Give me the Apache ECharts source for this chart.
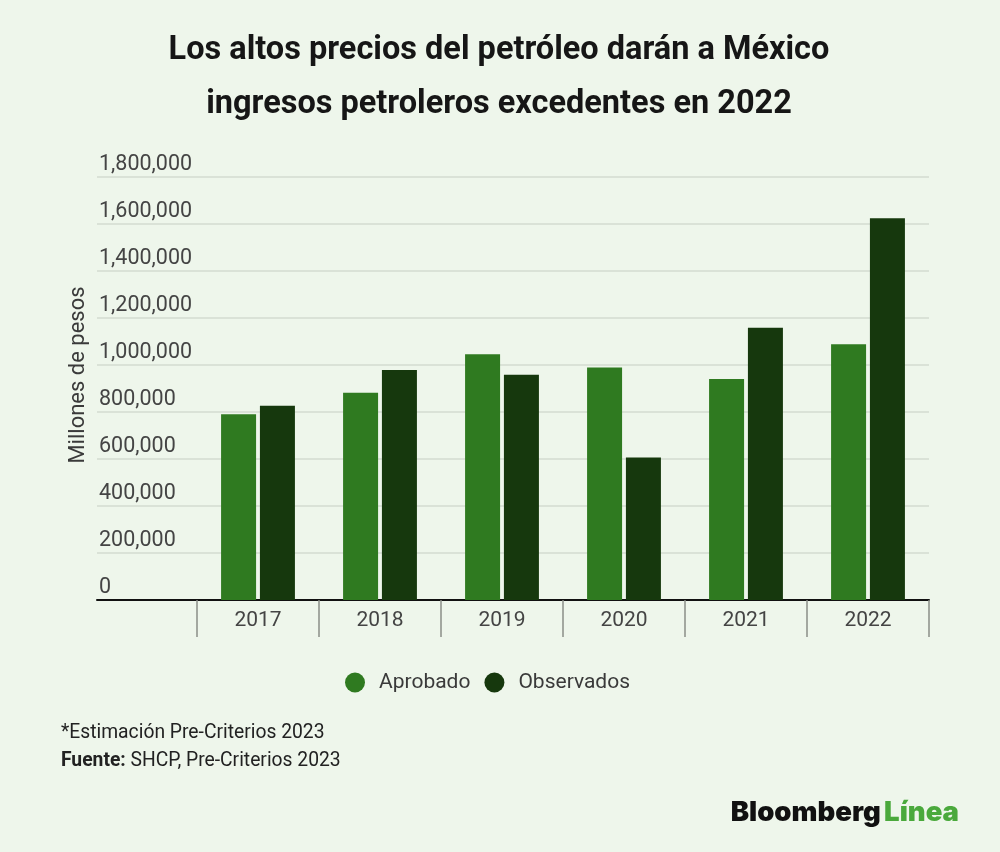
<!DOCTYPE html>
<html>
<head>
<meta charset="utf-8">
<script src="https://cdn.jsdelivr.net/npm/echarts@6/dist/echarts.min.js"></script>
<style>
html,body{margin:0;padding:0;background:#eef6eb;}
#chart{width:1000px;height:852px;}
</style>
</head>
<body>
<div id="chart"></div>
<script>
const years = ['2017', '2018', '2019', '2020', '2021', '2022'];
const aprobado = [790000, 882000, 1046000, 989000, 940000, 1088000];
const observados = [827000, 979000, 959000, 606000, 1159000, 1624000];
const seriesNames = ['Aprobado', 'Observados'];
const titleLines = ['Los altos precios del petróleo darán a México', 'ingresos petroleros excedentes en 2022'];
const yAxisName = 'Millones de pesos';
const note1 = '*Estimación Pre-Criterios 2023';
const sourceLabel = 'Fuente:';
const sourceText = ' SHCP, Pre-Criterios 2023';

const cA = '#2f7a20';
const cO = '#16380d';
const font = 'Roboto, "Noto Sans", sans-serif';

const chart = echarts.init(document.getElementById('chart'), null, {renderer: 'canvas'});
chart.setOption({
  backgroundColor: '#eef6eb',
  textStyle: {fontFamily: font},
  title: {
    text: titleLines.join('\n'),
    left: 494, top: 19, textAlign: 'center',
    textStyle: {fontSize: 32.5, fontWeight: 'bold', color: '#161616', lineHeight: 54, fontFamily: font}
  },
  legend: {
    data: seriesNames,
    left: 345, top: 672,
    icon: 'circle', itemWidth: 20, itemHeight: 20, itemGap: 14, padding: 0,
    textStyle: {fontSize: 21, color: '#3a3a3a', padding: [0, 0, 0, 9], fontFamily: font}
  },
  grid: [
    {left: 97, right: 71, top: 177, bottom: 252},
    {left: 197, right: 71, top: 177, bottom: 252}
  ],
  xAxis: [
    {gridIndex: 0, type: 'value', min: 0, max: 1,
      axisLine: {show: true, lineStyle: {color: '#111', width: 2}},
      axisTick: {show: false}, axisLabel: {show: false}, splitLine: {show: false}},
    {gridIndex: 1, type: 'category', data: years,
      axisLine: {show: false},
      axisTick: {show: true, length: 37, lineStyle: {color: '#8a8f88', width: 1.5}},
      axisLabel: {fontSize: 21, color: '#444', margin: 10, fontFamily: font}}
  ],
  yAxis: [
    {gridIndex: 0, type: 'value', min: 0, max: 1800000, interval: 200000,
      axisLine: {show: false}, axisTick: {show: false},
      splitLine: {show: true, lineStyle: {color: '#d3dbd0', width: 1.5}},
      axisLabel: {inside: true, margin: 2, verticalAlign: 'bottom', padding: [0, 0, 1, 0],
        fontSize: 21.5, color: '#444', fontFamily: font,
        formatter: v => v.toLocaleString('en-US')}},
    {gridIndex: 1, type: 'value', min: 0, max: 1800000, interval: 200000, show: false,
      splitLine: {show: false}}
  ],
  series: [
    {name: seriesNames[0], type: 'bar', xAxisIndex: 1, yAxisIndex: 1, data: aprobado,
      barWidth: 35, barGap: '11%', itemStyle: {color: cA}},
    {name: seriesNames[1], type: 'bar', xAxisIndex: 1, yAxisIndex: 1, data: observados,
      barWidth: 35, barGap: '11%', itemStyle: {color: cO}}
  ],
  graphic: [
    {type: 'text', x: 78, y: 375, rotation: Math.PI / 2,
      style: {text: yAxisName, fontSize: 22, fill: '#3a3a3a', fontFamily: font,
        align: 'center', verticalAlign: 'middle'}},
    {type: 'text', left: 61, top: 724, style: {text: note1, fontSize: 19.3, fill: '#222', fontFamily: font}},
    {type: 'text', left: 61, top: 752, style: {
      text: '{b|' + sourceLabel + '}{n|' + sourceText + '}',
      rich: {
        b: {fontSize: 19.3, fontWeight: 'bold', fill: '#222', fontFamily: font},
        n: {fontSize: 19.3, fill: '#222', fontFamily: font}
      }}},
    {type: 'text', right: 41, top: 799, style: {
      text: '{b|Bloomberg} {l|Línea}',
      rich: {
        b: {fontSize: 27.5, fontWeight: 900, fill: '#111', fontFamily: 'Inter, sans-serif'},
        l: {fontSize: 27.5, fontWeight: 900, fill: '#4aa93c', fontFamily: 'Inter, sans-serif'}
      }}}
  ]
});
</script>
</body>
</html>
